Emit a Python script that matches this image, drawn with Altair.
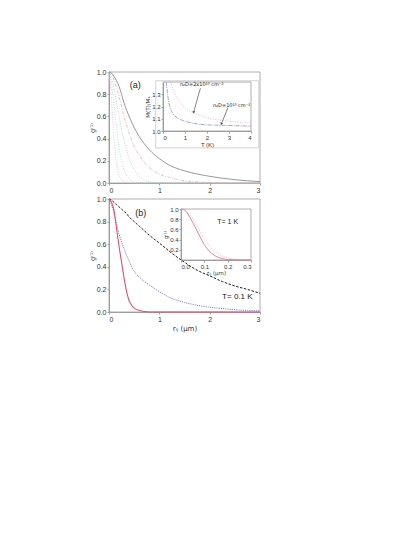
import altair as alt
import pandas as pd

FONT = "Liberation Sans"
SFONT = "DejaVu Sans"

# ---------------- data ----------------
# panel (a): g1 vs r (um)
a_r = [0, 0.05, 0.1, 0.15, 0.2, 0.3, 0.4, 0.5, 0.6, 0.8, 1.0, 1.2, 1.5, 2.0, 2.5, 3.0]
a_gray = [1.0, 0.99, 0.96, 0.92, 0.87, 0.72, 0.6, 0.5, 0.42, 0.3, 0.22, 0.16, 0.11, 0.06, 0.03, 0.012]
a_pink1 = [1.0, 0.98, 0.93, 0.86, 0.78, 0.6, 0.45, 0.33, 0.25, 0.14, 0.08, 0.05, 0.02, 0.005, 0.0, 0.0]
a_green = [1.0, 0.95, 0.85, 0.73, 0.6, 0.38, 0.22, 0.12, 0.06, 0.01, 0.0, 0.0, 0.0, 0.0, 0.0, 0.0]
a_cyan = [1.0, 0.9, 0.7, 0.5, 0.32, 0.12, 0.04, 0.01, 0.0, 0.0, 0.0, 0.0, 0.0, 0.0, 0.0, 0.0]
a_pink2 = [1.0, 0.75, 0.4, 0.18, 0.07, 0.01, 0.0, 0.0, 0.0, 0.0, 0.0, 0.0, 0.0, 0.0, 0.0, 0.0]

# inset (a): M(T)/Mx vs T (K)
ia_T_hi = [0.35, 0.5, 0.75, 1.0, 1.5, 2.0, 3.0, 4.0]
ia_hi = [1.4, 1.32, 1.24, 1.19, 1.14, 1.11, 1.08, 1.065]
ia_T_lo = [0.15, 0.25, 0.5, 1.0, 2.0, 3.0, 4.0]
ia_lo = [1.4, 1.25, 1.13, 1.08, 1.05, 1.045, 1.04]

# panel (b): T = 0.1 K
b_r = [0, 0.05, 0.1, 0.15, 0.2, 0.25, 0.3, 0.35, 0.4, 0.45, 0.5, 0.6, 0.7, 0.8, 1.0, 1.25, 1.5, 1.75, 2.0, 2.25, 2.5, 2.75, 3.0]
b_red = [1.0, 0.97, 0.9, 0.74, 0.58, 0.44, 0.3, 0.18, 0.1, 0.06, 0.035, 0.015, 0.004, 0.0, 0.0, 0.0, 0.0, 0.0, 0.0, 0.0, 0.0, 0.0, 0.0]
b_blue = [1.0, 0.95, 0.87, 0.78, 0.69, 0.62, 0.56, 0.5, 0.45, 0.4, 0.36, 0.31, 0.27, 0.24, 0.18, 0.12, 0.085, 0.06, 0.043, 0.03, 0.02, 0.014, 0.01]
b_black = [1.0, 0.99, 0.97, 0.95, 0.93, 0.91, 0.89, 0.87, 0.84, 0.82, 0.8, 0.76, 0.72, 0.68, 0.61, 0.52, 0.44, 0.37, 0.32, 0.27, 0.23, 0.2, 0.165]

# inset (b): T = 1 K
ib_r = [0, 0.02, 0.04, 0.06, 0.08, 0.1, 0.12, 0.14, 0.16, 0.18, 0.2, 0.25, 0.3]
ib_solid = [1.0, 0.96, 0.82, 0.65, 0.47, 0.3, 0.18, 0.1, 0.05, 0.025, 0.01, 0.002, 0.0]
ib_dot = [1.0, 0.97, 0.87, 0.73, 0.57, 0.42, 0.29, 0.19, 0.12, 0.07, 0.04, 0.01, 0.003]

# ---------------- layout (pixels inside the view) ----------------
W, H = 151, 240
A_X, A_Y = [0, 151], [111, 0]
B_X, B_Y = [0, 151], [240, 127]
IA_X, IA_Y = [54, 142], [59, 10]
IB_X, IB_Y = [72, 142], [188, 137]


def axis(orient, offset, values, fmt, title, **kw):
    opts = dict(grid=False, tickSize=2, labelFontSize=7, titleFontSize=7,
                labelFont=FONT, titleFont=FONT, titleFontWeight="normal",
                domainColor="#8a8a8a", tickColor="#8a8a8a",
                labelColor="#333333", titleColor="#333333", labelPadding=1, titlePadding=1,
                domainWidth=0.8, tickWidth=0.8)
    opts.update(kw)
    return alt.Axis(orient=orient, offset=offset, values=values, format=fmt, title=title, **opts)


def line_layer(xs, ys, xsc, ysc, xax, yax, color, dash, width):
    df = pd.DataFrame({"x": xs, "y": ys})
    kw = {}
    if dash:
        kw["strokeDash"] = dash
    return alt.Chart(df).mark_line(color=color, strokeWidth=width, interpolate="monotone", **kw).encode(
        x=alt.X("x:Q", scale=xsc, axis=xax),
        y=alt.Y("y:Q", scale=ysc, axis=yax),
    )


def frame_layer(xdom, ydom, xsc, ysc, xax, yax, color="#9a9a9a"):
    df = pd.DataFrame({"x": [xdom[0]], "x2": [xdom[1]], "y": [ydom[0]], "y2": [ydom[1]]})
    return alt.Chart(df).mark_rect(fillOpacity=0, stroke=color, strokeWidth=0.8).encode(
        x=alt.X("x:Q", scale=xsc, axis=xax), x2="x2:Q",
        y=alt.Y("y:Q", scale=ysc, axis=yax), y2="y2:Q",
    )


def text_layer(x, y, txt, xsc, ysc, xax, yax, size, color="#222222", align="center", font=FONT):
    df = pd.DataFrame({"x": [x], "y": [y], "t": [txt]})
    return alt.Chart(df).mark_text(font=font, fontSize=size, color=color, align=align).encode(
        x=alt.X("x:Q", scale=xsc, axis=xax),
        y=alt.Y("y:Q", scale=ysc, axis=yax),
        text="t:N",
    )


# ---------- panel (a) ----------
a_dom_x, a_dom_y = [0, 3], [0, 1]
xs_a = alt.Scale(domain=a_dom_x, range=A_X, nice=False, zero=False)
ys_a = alt.Scale(domain=a_dom_y, range=A_Y, nice=False)
xax_a = axis("bottom", A_Y[0] - H, [0, 1, 2, 3], "d", None)
yax_a = axis("left", 0, [0, 0.2, 0.4, 0.6, 0.8, 1.0], ".1f", "g⁽¹⁾", titleFont=SFONT, titleFontSize=6.5)
pa = alt.layer(
    frame_layer(a_dom_x, a_dom_y, xs_a, ys_a, xax_a, yax_a),
    line_layer(a_r, a_pink2, xs_a, ys_a, xax_a, yax_a, "#f3b3c6", [1, 1.5], 0.8),
    line_layer(a_r, a_cyan, xs_a, ys_a, xax_a, yax_a, "#9fd6de", [1, 1.5], 0.8),
    line_layer(a_r, a_green, xs_a, ys_a, xax_a, yax_a, "#a6d4a6", [1, 1.5], 0.8),
    line_layer(a_r, a_pink1, xs_a, ys_a, xax_a, yax_a, "#e8a7b8", [3, 1.5, 1, 1.5], 0.8),
    line_layer(a_r, a_gray, xs_a, ys_a, xax_a, yax_a, "#8c8c8c", None, 0.9),
    text_layer(0.52, 0.88, "(a)", xs_a, ys_a, xax_a, yax_a, 9),
)

# ---------- inset (a) ----------
ia_dom_x, ia_dom_y = [0, 4], [1.0, 1.4]
xs_ia = alt.Scale(domain=ia_dom_x, range=IA_X, nice=False, zero=False)
ys_ia = alt.Scale(domain=ia_dom_y, range=IA_Y, nice=False, zero=False)
xax_ia = axis("bottom", IA_Y[0] - H, [0, 1, 2, 3, 4], "d", "T (K)", labelFontSize=6, titleFontSize=6)
yax_ia = axis("left", -IA_X[0], [1.0, 1.1, 1.2, 1.3], ".1f", "M(T)/Mₓ", labelFontSize=6, titleFontSize=5.5,
              titleFont=SFONT)
arrows = pd.DataFrame({"x": [1.7, 2.95], "y": [1.35, 1.19], "x2": [1.39, 2.65], "y2": [1.152, 1.057],
                       "ang": [195, 203]})
ia = alt.layer(
    frame_layer([-0.33, 4.35], [0.862, 1.41], xs_ia, ys_ia, xax_ia, yax_ia, color="#c8c8c8"),
    frame_layer(ia_dom_x, ia_dom_y, xs_ia, ys_ia, xax_ia, yax_ia),
    line_layer(ia_T_hi, ia_hi, xs_ia, ys_ia, xax_ia, yax_ia, "#e9a6bd", [1, 1.5], 0.8),
    line_layer(ia_T_lo, ia_lo, xs_ia, ys_ia, xax_ia, yax_ia, "#8c8fd0", [4, 1, 1, 1], 0.8),
    alt.Chart(arrows).mark_rule(color="#333333", strokeWidth=0.6).encode(
        x=alt.X("x:Q", scale=xs_ia, axis=xax_ia), y=alt.Y("y:Q", scale=ys_ia, axis=yax_ia),
        x2="x2:Q", y2="y2:Q"),
    alt.Chart(arrows).mark_point(shape="triangle-up", filled=True, size=10, color="#333333").encode(
        x=alt.X("x2:Q", scale=xs_ia, axis=xax_ia), y=alt.Y("y2:Q", scale=ys_ia, axis=yax_ia),
        angle=alt.Angle("ang:Q", scale=None)),
    text_layer(1.76, 1.38, "n₂D=2x10¹⁰ cm⁻²", xs_ia, ys_ia, xax_ia, yax_ia, 5, font=SFONT),
    text_layer(3.12, 1.215, "n₂D=10¹⁰ cm⁻²", xs_ia, ys_ia, xax_ia, yax_ia, 5, font=SFONT),
)

# ---------- panel (b) ----------
b_dom_x, b_dom_y = [0, 3], [0, 1]
xs_b = alt.Scale(domain=b_dom_x, range=B_X, nice=False, zero=False)
ys_b = alt.Scale(domain=b_dom_y, range=B_Y, nice=False)
xax_b = axis("bottom", 0, [0, 1, 2, 3], "d", "rᵢⱼ (μm)", titlePadding=2, titleFont=SFONT)
yax_b = axis("left", 0, [0, 0.2, 0.4, 0.6, 0.8, 1.0], ".1f", "g⁽¹⁾", titleFont=SFONT, titleFontSize=6.5)
pb = alt.layer(
    frame_layer(b_dom_x, b_dom_y, xs_b, ys_b, xax_b, yax_b),
    line_layer(b_r, b_black, xs_b, ys_b, xax_b, yax_b, "#1e1e1e", [2.5, 1.5], 1.0),
    line_layer(b_r, b_blue, xs_b, ys_b, xax_b, yax_b, "#6b6bd0", [1, 1.2], 1.0),
    line_layer(b_r, b_red, xs_b, ys_b, xax_b, yax_b, "#e2506e", None, 1.1),
    text_layer(0.63, 0.88, "(b)", xs_b, ys_b, xax_b, yax_b, 9),
    text_layer(2.55, 0.133, "T= 0.1 K", xs_b, ys_b, xax_b, yax_b, 8),
)

# ---------- inset (b) ----------
ib_dom_x, ib_dom_y = [0, 0.3], [0, 1]
xs_ib = alt.Scale(domain=ib_dom_x, range=IB_X, nice=False, zero=False)
ys_ib = alt.Scale(domain=ib_dom_y, range=IB_Y, nice=False)
xax_ib = axis("bottom", IB_Y[0] - H, [0, 0.1, 0.2, 0.3], ".1f", "rᵢⱼ (μm)", labelFontSize=6, titleFontSize=5.5,
              titleFont=SFONT)
yax_ib = axis("left", -IB_X[0], [0.2, 0.4, 0.6, 0.8, 1.0], ".1f", "g⁽¹⁾", labelFontSize=6, titleFontSize=5.5,
              titleFont=SFONT)
ib = alt.layer(
    frame_layer(ib_dom_x, ib_dom_y, xs_ib, ys_ib, xax_ib, yax_ib),
    line_layer(ib_r, ib_dot, xs_ib, ys_ib, xax_ib, yax_ib, "#f0a8b8", [1, 1.2], 0.8),
    line_layer(ib_r, ib_solid, xs_ib, ys_ib, xax_ib, yax_ib, "#e07890", None, 0.9),
    text_layer(0.2, 0.745, "T= 1 K", xs_ib, ys_ib, xax_ib, yax_ib, 7),
)

chart = alt.layer(pa, ia, pb, ib).resolve_scale(x="independent", y="independent").properties(
    width=W, height=H,
    autosize=alt.AutoSizeParams(type="none"),
    padding={"left": 101, "top": 64, "right": 30, "bottom": 60},
).configure_view(stroke=None)

chart.save("out.html", embed_options={"renderer": "svg", "actions": False})
